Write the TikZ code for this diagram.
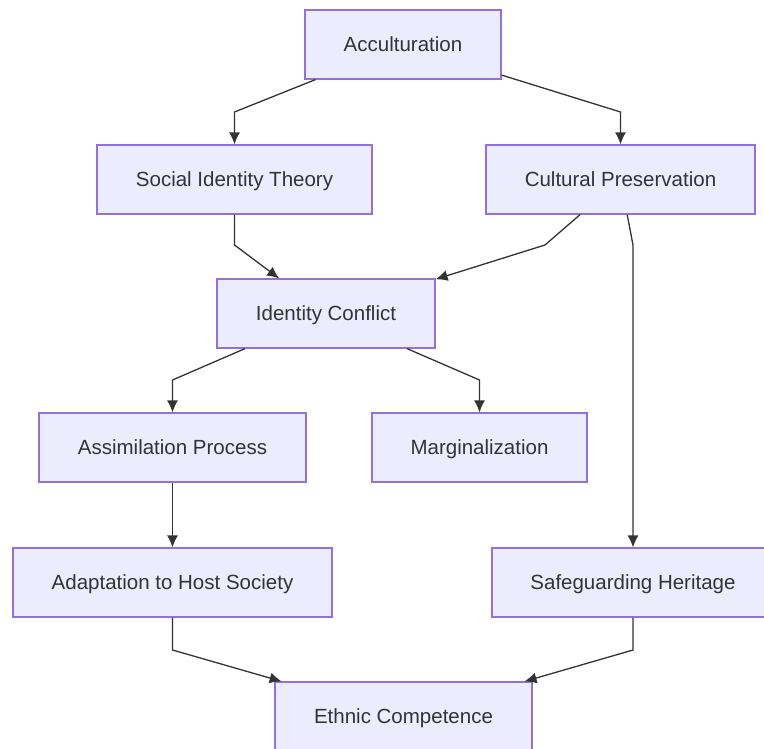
\documentclass[tikz,border=0pt]{standalone}
\usepackage{fontspec}
\setmainfont{Liberation Sans}
\usetikzlibrary{arrows.meta}
\definecolor{boxfill}{HTML}{ECECFF}
\definecolor{boxline}{HTML}{9370DB}
\definecolor{ink}{HTML}{333333}
\tikzset{>={Latex[length=12pt,width=11pt]}}
\tikzset{
  box/.style={draw=boxline,fill=boxfill,line width=1.2pt,minimum height=69pt,
    text=ink,font=\fontsize{20.5}{24}\selectfont,inner sep=0pt,
    text height=17pt,text depth=2.4pt},
  arr/.style={ink,line width=1.3pt,->}}

\begin{document}
\begin{tikzpicture}[x=1pt,y=-1pt]
\useasboundingbox (0,0) rectangle (764,749);
\node[box,minimum width=196pt] (acc) at (403,44.5) {Acculturation};
\node[box,minimum width=275pt] (sit) at (234.5,179.5) {Social Identity Theory};
\node[box,minimum width=269pt] (cp) at (620.5,179.5) {Cultural Preservation};
\node[box,minimum width=218pt] (ic) at (326,313.5) {Identity Conflict};
\node[box,minimum width=267pt] (ap) at (172.5,447.5) {Assimilation Process};
\node[box,minimum width=215pt] (marg) at (479.5,447.5) {Marginalization};
\node[box,minimum width=319pt] (adapt) at (172.5,582.5) {Adaptation to Host Society};
\node[box,minimum width=282pt] (sh) at (633,582.5) {Safeguarding Heritage};
\node[box,minimum width=257pt] (ec) at (403.5,716.5) {Ethnic Competence};

\draw[arr] (acc) -- (234.5,112) -- (sit);
\draw[arr] (acc) -- (620.5,112) -- (cp);
\draw[arr] (sit) -- (234.5,245) -- (ic);
\draw[arr] (cp) -- (545,245) -- (ic);
\draw[arr] (cp) -- (633,245) -- (sh);
\draw[arr] (ic) -- (172.5,380) -- (ap);
\draw[arr] (ic) -- (479.5,380) -- (marg);
\draw[arr] (ap) -- (adapt);
\draw[arr] (adapt) -- (172.5,650) -- (ec);
\draw[arr] (sh) -- (633,650) -- (ec);
\end{tikzpicture}
\end{document}
